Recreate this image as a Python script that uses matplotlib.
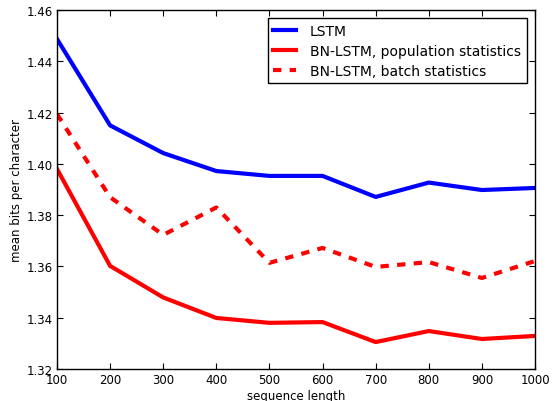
import matplotlib
matplotlib.use("Agg")
import matplotlib.pyplot as plt

seq_len = [100, 200, 300, 400, 500, 600, 700, 800, 900, 1000]
lstm = [1.4487, 1.4150, 1.4042, 1.3972, 1.3953, 1.3953, 1.3871, 1.3927, 1.3898, 1.3906]
bn_pop = [1.3980, 1.3602, 1.3479, 1.3399, 1.3380, 1.3383, 1.3305, 1.3348, 1.3317, 1.3329]
bn_batch = [1.4194, 1.3870, 1.3723, 1.3830, 1.3614, 1.3672, 1.3598, 1.3617, 1.3555, 1.3621]

fig = plt.figure(figsize=(5.54, 4.02), dpi=100)
ax = fig.add_axes([57/554, 1 - 370/402, (535-57)/554, (370-11)/402])

ax.plot(seq_len, lstm, color=(0, 0, 1), lw=3, label="LSTM")
ax.plot(seq_len, bn_pop, color=(1, 0, 0), lw=3, label="BN-LSTM, population statistics")
ax.plot(seq_len, bn_batch, color=(1, 0, 0), lw=3, ls=(0, (2, 2)), label="BN-LSTM, batch statistics")

ax.set_xlim(100, 1000)
ax.set_ylim(1.32, 1.46)
ax.set_xticks(range(100, 1001, 100))
ax.set_yticks([1.32, 1.34, 1.36, 1.38, 1.40, 1.42, 1.44, 1.46])
ax.set_yticklabels(["1.32", "1.34", "1.36", "1.38", "1.40", "1.42", "1.44", "1.46"])
ax.tick_params(direction="in", top=True, right=True, length=4, labelsize=8.5)
ax.tick_params(axis="x", pad=3)
ax.tick_params(axis="y", pad=3)
for s in ax.spines.values():
    s.set_linewidth(1.0)
ax.set_xlabel("sequence length", fontsize=8.5, labelpad=2)
ax.set_ylabel("mean bits per character", fontsize=8.5, labelpad=2.5)

leg = ax.legend(loc="upper right", fontsize=10, fancybox=False, framealpha=1,
                edgecolor="black", borderaxespad=0.6, handlelength=1.65,
                handletextpad=1.0, labelspacing=0.42)
leg.get_frame().set_linewidth(1.0)

fig.savefig("out.png", dpi=100)
